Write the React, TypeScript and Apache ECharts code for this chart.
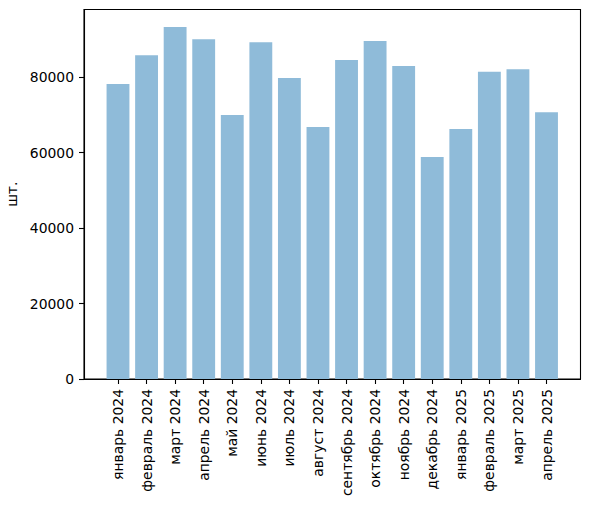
import React, { useEffect, useRef } from "react";
import * as echarts from "echarts";

const categories = [
  "январь 2024", "февраль 2024", "март 2024", "апрель 2024", "май 2024",
  "июнь 2024", "июль 2024", "август 2024", "сентябрь 2024", "октябрь 2024",
  "ноябрь 2024", "декабрь 2024", "январь 2025", "февраль 2025", "март 2025",
  "апрель 2025",
];
const values = [
  78150, 85800, 93250, 90050, 69950, 89250, 79750, 66750, 84500, 89550,
  82900, 58800, 66250, 81400, 82100, 70700,
];
const yTicks = [0, 20000, 40000, 60000, 80000];
const yMax = 97900;
const yName = "шт.";

const FONT = "DejaVu Sans";
const FS = 13.9;

export default function App() {
  const ref = useRef<HTMLDivElement>(null);
  useEffect(() => {
    if (!ref.current) return;
    const chart = echarts.init(ref.current, null, { renderer: "svg" });
    const xTicks = categories.map((_, i) => i);
    chart.setOption({
      animation: false,
      backgroundColor: "#ffffff",
      textStyle: { fontFamily: FONT, fontSize: FS, color: "#000" },
      grid: {
        left: 84,
        right: 8.5,
        top: 9.5,
        bottom: 127,
        containLabel: false,
        outerBoundsMode: "none",
        show: true,
        borderColor: "#000",
        borderWidth: 1.1,
        backgroundColor: "transparent",
      },
      xAxis: {
        type: "value",
        min: -1.19,
        max: categories.length - 1 + 1.19,
        axisLine: { show: true, onZero: false, lineStyle: { color: "#000", width: 1.1 } },
        axisTick: { show: true, length: 5, customValues: xTicks, lineStyle: { color: "#000", width: 1.1 } },
        splitLine: { show: false },
        axisLabel: {
          customValues: xTicks,
          rotate: 90,
          margin: 10,
          fontFamily: FONT,
          fontSize: FS,
          color: "#000",
          formatter: (v: number) => categories[Math.round(v)] ?? "",
        },
      },
      yAxis: {
        type: "value",
        min: 0,
        max: yMax,
        name: yName,
        nameLocation: "middle",
        nameGap: 54,
        nameTextStyle: { fontFamily: FONT, fontSize: FS, color: "#000" },
        axisLine: { show: true, onZero: false, lineStyle: { color: "#000", width: 1.1 } },
        axisTick: { show: true, length: 5, customValues: yTicks, lineStyle: { color: "#000", width: 1.1 } },
        splitLine: { show: false },
        axisLabel: {
          customValues: yTicks,
          margin: 10,
          fontFamily: FONT,
          fontSize: FS,
          color: "#000",
          formatter: (v: number) => String(v),
        },
      },
      series: [
        {
          type: "bar",
          barWidth: "80%",
          itemStyle: { color: "#8fbbd9" },
          data: values.map((v, i) => [i, v]),
        },
      ],
    });
    return () => chart.dispose();
  }, []);
  return (
    <div
      ref={ref}
      style={{ position: "fixed", left: 0, top: 0, width: 589, height: 506, background: "#fff" }}
    />
  );
}
